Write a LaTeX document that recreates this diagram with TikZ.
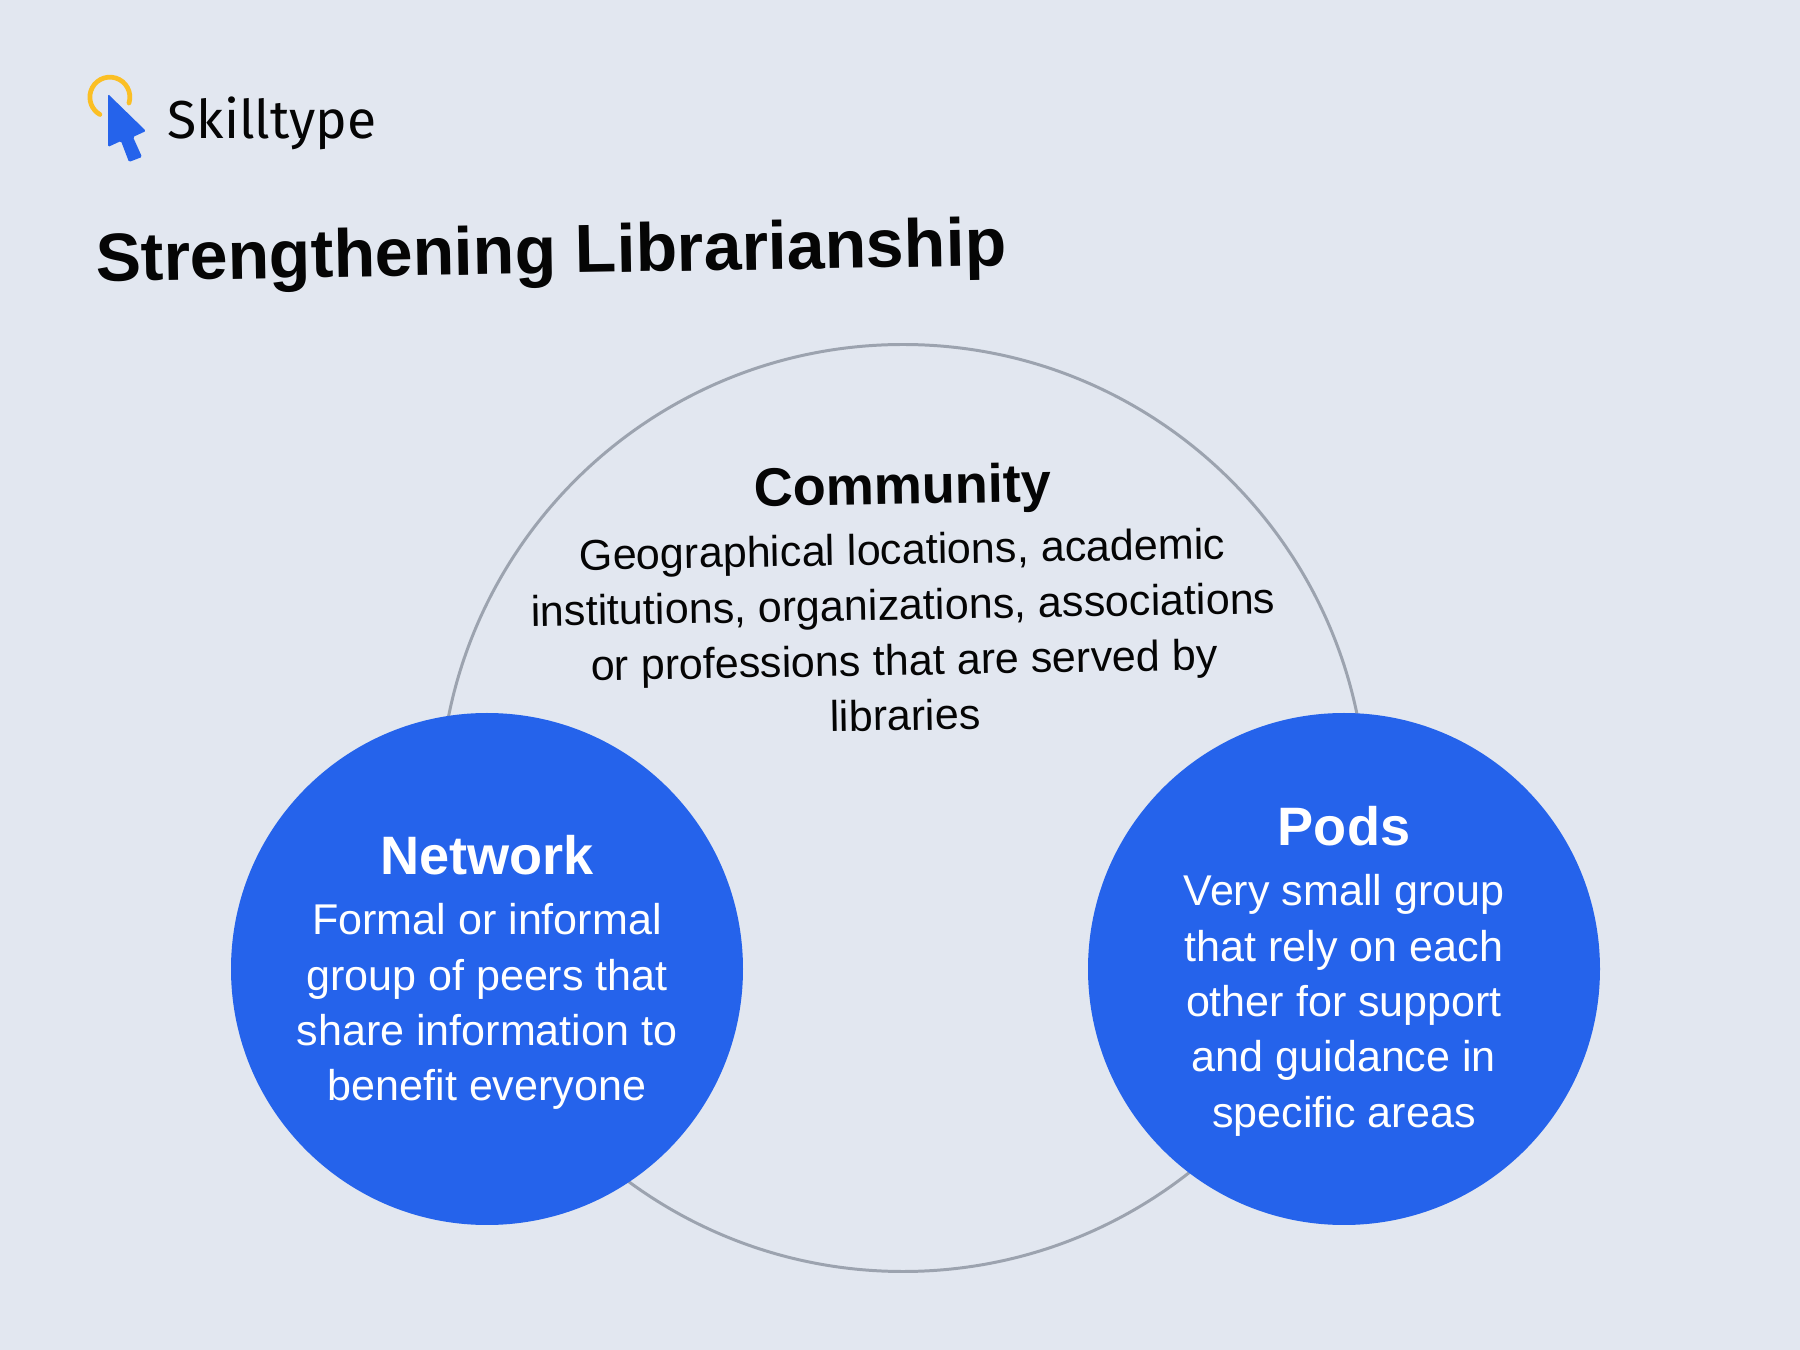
\documentclass[tikz,border=0pt]{standalone}
\usepackage{fontspec}
\setmainfont{Liberation Sans}
\newfontfamily\logofont{Fira Sans}
\usepackage{tikz}
\definecolor{pagebg}{HTML}{E2E7F0}
\definecolor{podblue}{HTML}{2563EB}
\definecolor{ringgray}{HTML}{9CA3AF}
\definecolor{ringyellow}{HTML}{FBBF24}
\definecolor{inkblack}{HTML}{050505}
\tikzset{
  headfont/.style={font=\fontsize{15.4}{18}\selectfont\bfseries},
  bodyfont/.style={font=\fontsize{12.25}{15.75}\selectfont},
  smallcircle/.style={circle,fill=podblue,minimum size=5.12cm,inner sep=0pt},
  whitetext/.style={text=white,align=center,inner sep=0pt},
  blacktext/.style={text=inkblack,align=center,inner sep=0pt,rotate=1},
}

\begin{document}
\begin{tikzpicture}
  \useasboundingbox[fill=pagebg] (0,0) rectangle (18,13.5);
  % big ring behind the two discs
  \node[circle,draw=ringgray,line width=0.85pt,minimum size=9.27cm,inner sep=0pt] (community) at (9.03,5.42) {};
  \node[smallcircle] (network) at (4.87,3.81) {};
  \node[smallcircle] (pods) at (13.44,3.81) {};
  % logo
  \draw[ringyellow,line width=1.35pt,line cap=round] (1.29,12.47) arc (-17:240:0.2);
  \fill[podblue,rounded corners=0.4pt] (1.08,12.56) -- (1.46,12.19) -- (1.33,12.13) -- (1.42,11.93) -- (1.29,11.88) -- (1.21,12.09) -- (1.08,12.03) -- cycle;
  \node[text=inkblack,font=\fontsize{15.2}{18}\logofont,anchor=west,inner sep=0pt] (brand) at (1.67,12.265) {Skilltype};
  % title
  \node[blacktext,font=\fontsize{19.35}{23}\selectfont\bfseries,anchor=center] (title) at (5.51,10.94) {Strengthening Librarianship};
  % labels
  \node[blacktext,headfont] (communityhead) at (9.03,8.6) {Community};
  \node[blacktext,bodyfont,below=0pt] (communitytext) at (9.02,8.175) {Geographical locations, academic\\institutions, organizations, associations\\or professions that are served by\\libraries};
  \node[whitetext,headfont] (networkhead) at (4.87,4.95) {Network};
  \node[whitetext,bodyfont,anchor=north] (networktext) at (4.87,4.47) {Formal or informal\\group of peers that\\share information to\\benefit everyone};
  \node[whitetext,headfont] (podshead) at (13.44,5.24) {Pods};
  \node[whitetext,bodyfont,anchor=north] (podstext) at (13.44,4.76) {Very small group\\that rely on each\\other for support\\and guidance in\\specific areas};
\end{tikzpicture}
\end{document}
